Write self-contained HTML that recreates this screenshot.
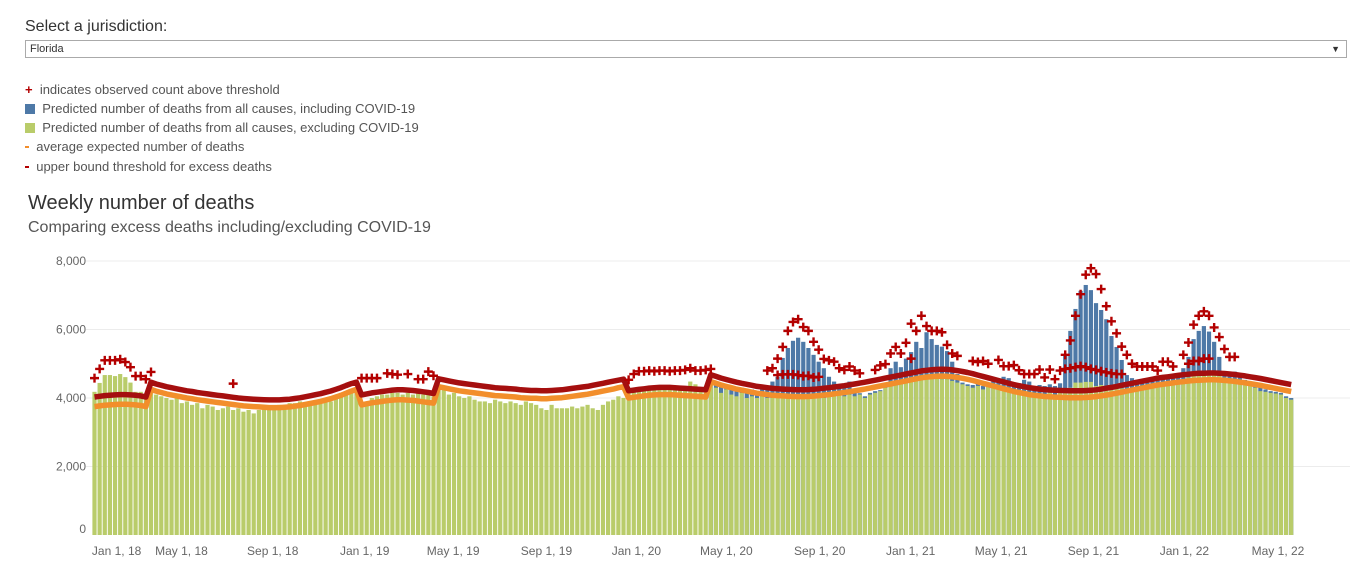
<!DOCTYPE html>
<html><head><meta charset="utf-8">
<style>
body{margin:0;width:1362px;height:572px;background:#fff;font-family:"Liberation Sans",sans-serif;overflow:hidden;position:relative}
.t{position:absolute;white-space:nowrap}
</style></head><body>
<div class="t" style="left:25px;top:18px;font-size:16px;color:#333">Select a jurisdiction:</div>
<div style="position:absolute;left:25px;top:40px;width:1322px;height:18px;border:1px solid #aaa;box-sizing:border-box;font-size:11px;color:#333;line-height:16px;padding-left:4px">Florida<span style="position:absolute;right:6px;top:0;font-size:9px">▼</span></div>
<div>
<div class="t" style="left:25px;top:82px;font-size:13px;color:#555"><span style="color:#b30000;font-weight:bold">+</span>&nbsp; indicates observed count above threshold</div>
<div class="t" style="left:25px;top:101px;font-size:13px;color:#555"><span style="display:inline-block;width:10px;height:10px;background:#4e79a7;vertical-align:-1px"></span>&nbsp; Predicted number of deaths from all causes, including COVID-19</div>
<div class="t" style="left:25px;top:120px;font-size:13px;color:#555"><span style="display:inline-block;width:10px;height:10px;background:#b9cc6a;vertical-align:-1px"></span>&nbsp; Predicted number of deaths from all causes, excluding COVID-19</div>
<div class="t" style="left:25px;top:139px;font-size:13px;color:#555"><span style="display:inline-block;width:4px;height:2px;background:#f28e2b;vertical-align:3px"></span>&nbsp; average expected number of deaths</div>
<div class="t" style="left:25px;top:159px;font-size:13px;color:#555"><span style="display:inline-block;width:4px;height:2px;background:#b30000;vertical-align:3px"></span>&nbsp; upper bound threshold for excess deaths</div>
</div>
<div class="t" style="left:28px;top:192px;font-size:20px;color:#333">Weekly number of deaths</div>
<div class="t" style="left:28px;top:219px;font-size:16px;color:#555">Comparing excess deaths including/excluding COVID-19</div>
<svg id="chart" width="1362" height="572" style="position:absolute;left:0;top:0"></svg>
<script>
const green=[4180,4440,4670,4670,4640,4700,4610,4450,4180,4180,4120,4330,4100,4050,4000,3950,4000,3850,3900,3800,3850,3700,3800,3750,3650,3700,3750,3650,3700,3600,3650,3550,3650,3700,3700,3750,3800,3700,3850,3850,3900,3750,3900,3800,3850,3950,3900,4000,4150,4200,4250,4200,
3800,3900,4000,4050,4100,4100,4150,4150,4100,4150,4100,4150,4100,4100,4050,4350,4250,4100,4150,4050,4000,4050,3950,3900,3900,3850,3950,3900,3850,3900,3850,3800,3900,3850,3800,3700,3650,3800,3700,3700,3700,3750,3700,3750,3800,3700,3650,3800,3900,3950,4050,4000,
4150,4200,4250,4250,4300,4300,4300,4250,4300,4350,4300,4300,4480,4400,4300,4250,
4500,4300,4150,4250,4100,4050,4150,4000,4050,4000,4050,4000,4000,4050,4000,4050,4000,4050,4000,4050,4000,4100,4000,4050,4100,4150,4050,4100,4050,4100,4000,4100,4150,4200,4300,4350,
4500,4500,4550,4600,4600,4650,4600,4650,4600,4550,4550,4500,
4450,4400,4350,4300,4350,4250,4350,4300,4250,4300,4200,4150,4200,4150,4100,4150,4100,4100,4150,4100,4150,
4200,4300,4450,4450,4470,4470,4350,4380,4350,4300,4300,4280,4200,4200,4250,4250,4300,4350,4350,
4400,4420,4450,4500,4550,4600,4650,4700,4800,4780,4750,4650,4600,4550,4500,4450,4400,4400,4300,4200,4180,4150,4130,4100,4000,3950];
const totalStartWeek=120;
const totals=[4500,4450,4350,4350,4300,4250,4300,4200,4250,4200,4300,4350,4480,4620,5170,5460,5670,5760,5640,5460,5260,5060,4870,4620,4480,4330,4330,4480,4230,4140,4050,4150,4200,4230,4440,4870,
5060,4900,5150,5340,5640,5460,5920,5720,5550,5500,
5370,5060,4700,4450,4400,4380,4420,4350,4450,4550,4500,4620,4580,4380,4430,4530,4480,4290,4380,4350,4400,4350,4430,
5260,5960,6600,7130,7300,7150,6770,6570,6300,5810,5490,5110,4670,4580,4530,4500,4520,4550,4550,
4620,4600,4650,4700,4870,5200,5720,5960,6100,5940,5640,5200,4770,4730,4770,4610,4530,4450,4400,4350,4250,4200,4180,4150,4050,4000];
const expected=[3750,3770,3790,3800,3810,3820,3820,3810,3800,3780,3750,
4250,4200,4160,4120,4090,4060,4030,4000,3980,3950,3930,3910,3890,3870,3850,3830,3810,3790,3770,3760,3750,3740,3730,3720,3720,3720,
3730,3740,3760,3780,3810,3840,3870,3900,3940,3980,4030,4080,4140,4200,4250,
3800,3830,3860,3880,3900,3920,3940,3950,3950,3940,3930,3910,3890,3870,3850,
4330,4300,4270,4240,4210,4190,4170,4150,4130,4110,4090,4070,4060,4050,4040,4030,4010,4000,3990,3990,3980,3980,
3990,4000,4010,4030,4050,4070,4090,4110,4140,4170,4200,4230,4260,4300,4330,
4000,4020,4040,4060,4080,4090,4100,4100,4100,4090,4080,4070,4060,4050,4040,4030,
4480,4430,4380,4340,4300,4260,4230,4200,4170,4140,4120,4100,4080,4070,4060,4050,4045,4040,4040,
4045,4055,4070,4085,4100,4120,4140,4160,4185,4210,4235,4260,4290,4320,4350,4380,4410,4440,4470,4500,4530,4560,4590,4610,4625,4635,4640,
4635,4620,4600,4575,4545,4510,4470,4430,4390,4350,4310,4270,4230,4190,4160,4130,4100,4080,4060,4045,4035,4025,4020,4015,4010,4010,4010,
4015,4025,4040,4060,4085,4110,4140,4170,4200,4230,4260,4290,4320,4350,4380,4400,4420,4440,4460,4480,4495,4510,4520,4525,4530,4530,
4525,4515,4500,4485,4465,4445,4420,4395,4370,4340,4310,4280,4250,4220,4190];
const upper=[4030,4050,4070,4080,4090,4100,4100,4090,4080,4060,4030,
4460,4410,4370,4330,4300,4270,4240,4210,4190,4160,4140,4120,4100,4080,4060,4040,4020,4000,3985,3975,3965,3955,3950,3945,3945,3945,
3955,3965,3985,4005,4035,4065,4095,4125,4165,4205,4255,4305,4365,4420,4460,
4090,4120,4150,4170,4190,4210,4230,4240,4240,4230,4220,4200,4180,4160,4130,
4560,4530,4500,4470,4440,4420,4400,4380,4360,4340,4320,4300,4290,4280,4270,4260,4240,4230,4220,4220,4210,4210,
4220,4230,4240,4260,4280,4300,4320,4340,4370,4400,4430,4460,4490,4520,4550,
4210,4230,4250,4270,4290,4300,4310,4310,4310,4300,4290,4280,4270,4260,4250,4240,
4680,4630,4580,4540,4500,4460,4430,4400,4370,4340,4320,4300,4280,4270,4260,4250,4245,4240,4240,
4245,4255,4270,4285,4300,4320,4340,4360,4385,4410,4435,4460,4490,4520,4550,4580,4610,4640,4670,4700,4730,4760,4790,4810,4825,4835,4840,
4835,4820,4800,4775,4745,4710,4670,4630,4590,4550,4510,4470,4430,4390,4360,4330,4300,4280,4260,4245,4235,4225,4220,4215,4210,4210,4210,
4215,4225,4240,4260,4285,4310,4340,4370,4400,4430,4460,4490,4520,4550,4580,4600,4620,4640,4660,4680,4695,4710,4720,4725,4730,4730,
4725,4715,4700,4685,4665,4645,4620,4595,4570,4540,4510,4480,4450,4420,4390];
const markWeeks=[0,1,2,3,4,5,6,7,8,9,10,11,27,52,53,54,55,57,58,59,61,63,64,65,66,
104,105,106,107,108,109,110,111,112,113,114,115,116,117,118,119,120,
131,132,133,134,135,136,137,138,139,140,141,142,143,144,145,146,147,148,149,
133,134,135,136,137,138,139,140,141,
152,153,154,155,156,157,158,159,160,161,162,163,164,165,166,167,168,159,
171,172,173,174,176,177,178,179,180,181,182,183,184,185,186,187,188,
189,190,191,192,193,194,195,196,197,198,199,200,201,202,203,204,205,206,207,208,209,210,
189,190,191,192,193,194,195,196,197,198,199,200,
212,213,214,215,216,217,218,219,220,221,222,213,214,215,216,217];
const markValues=[4580,4850,5100,5100,5100,5130,5050,4900,4640,4640,4550,4760,4420,4580,4580,4580,4580,4720,4700,4680,4700,4550,4550,4770,4650,
4530,4700,4780,4780,4800,4780,4800,4800,4780,4800,4800,4820,4870,4800,4800,4820,4850,
4800,4870,5150,5490,5960,6220,6300,6070,5960,5640,5410,5140,5100,5060,4870,4820,4920,4800,4720,
4670,4690,4690,4690,4670,4640,4650,4600,4620,
4820,4950,4990,5300,5490,5300,5610,6170,5960,6400,6100,5960,5960,5920,5550,5300,5230,5150,
5080,5050,5080,5000,5110,4930,4930,4960,4810,4700,4700,4700,4830,4600,4830,4550,4800,
5260,5680,6400,7030,7600,7790,7620,7180,6680,6240,5890,5500,5260,5000,4920,4920,4920,4920,4800,5060,5060,4920,
4850,4870,4900,4930,4900,4850,4820,4780,4750,4720,4700,4700,
5260,5620,6140,6400,6530,6400,6060,5780,5430,5200,5200,5000,5080,5080,5150,5150];
const yTicks=[0,2000,4000,6000,8000];
const yTickLabels=["0","2,000","4,000","6,000","8,000"];
const xTickLabels=["Jan 1, 18","May 1, 18","Sep 1, 18","Jan 1, 19","May 1, 19","Sep 1, 19","Jan 1, 20","May 1, 20","Sep 1, 20","Jan 1, 21","May 1, 21","Sep 1, 21","Jan 1, 22","May 1, 22"];
const xTickWeeks=[-0.5,11.8,29.7,47.8,64.7,83,100.7,117.9,136.2,154.1,171.4,189.5,207.4,225.3];

const NS="http://www.w3.org/2000/svg";
const svg=document.getElementById('chart');
const yS=v=>535-v*68.5/2000;
const xS=i=>94.5+5.136*i;
function mk(tag,attrs){const e=document.createElementNS(NS,tag);for(const k in attrs)e.setAttribute(k,attrs[k]);svg.appendChild(e);return e;}
yTicks.forEach((v,k)=>{
  if(v>0){const g=mk('line',{x1:86,x2:1350,y1:yS(v),y2:yS(v),stroke:'#ececec','stroke-width':1});
  
  }
  const t=mk('text',{x:86,y:(v===0?yS(v)-6:yS(v))+4,'text-anchor':'end','font-size':12,fill:'#666','font-family':'Liberation Sans, sans-serif'});
  t.textContent=yTickLabels[k];
  
  
});
xTickLabels.forEach((l,k)=>{
  const t=mk('text',{x:xS(xTickWeeks[k]),y:555,'font-size':12,fill:'#666','font-family':'Liberation Sans, sans-serif'});
  t.textContent=l;
  
  
});
totals.forEach((v,j)=>{
  const i=j+totalStartWeek;
  const r=mk('rect',{x:xS(i)-2.1,y:yS(v),width:4.2,height:535-yS(v),fill:'#4e79a7'});
  
  
});
green.forEach((v,i)=>{
  const r=mk('rect',{x:xS(i)-2.1,y:yS(v),width:4.2,height:535-yS(v),fill:'#b9cc6a'});
  
  
});
const ptsE=expected.map((v,i)=>xS(i).toFixed(1)+','+yS(v).toFixed(1)).join(' ');
const le=mk('polyline',{points:ptsE,fill:'none',stroke:'#f28e2b','stroke-width':5.5,'stroke-linejoin':'round'});


const ptsU=upper.map((v,i)=>xS(i).toFixed(1)+','+yS(v).toFixed(1)).join(' ');
const lu=mk('polyline',{points:ptsU,fill:'none',stroke:'#a50f0f','stroke-width':5.5,'stroke-linejoin':'round'});


markWeeks.forEach((w,k)=>{
  const x=xS(w),y=yS(markValues[k]);
  const p=mk('path',{d:`M${x-4.5},${y}H${x+4.5}M${x},${y-4.5}V${y+4.5}`,stroke:'#b30000','stroke-width':2.4,fill:'none'});
  
  
});
</script>
</body></html>
